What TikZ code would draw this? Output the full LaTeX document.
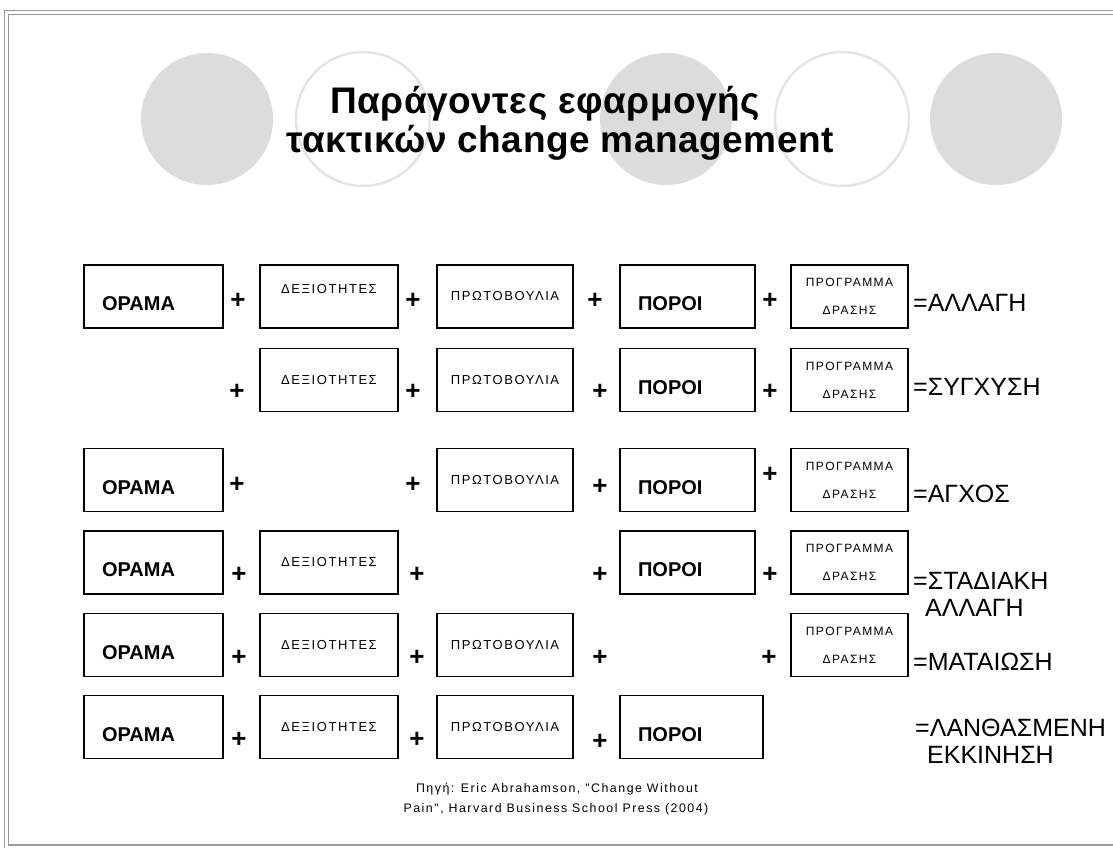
\documentclass[tikz,border=0pt]{standalone}
\usepackage{fontspec}
\setmainfont{Liberation Sans}
\newfontfamily\spacedsans[LetterSpace=12]{Liberation Sans}
\newfontfamily\titlesans[LetterSpace=1.5]{Liberation Sans}

\definecolor{discgray}{HTML}{DCDCDC}
\definecolor{ringgray}{HTML}{E4E4E4}
\definecolor{framegray}{HTML}{9A9A9A}

\tikzset{
  box/.style={draw, line width=1.1pt, rectangle, minimum height=63pt, inner ysep=0pt},
  bigbox/.style={box, font=\bfseries\fontsize{20}{20}\selectfont, align=left,
    inner xsep=18pt, text height=28pt, text depth=0pt, text width=#1},
  skillbox/.style={box, font=\spacedsans\fontsize{13}{13}\selectfont, minimum width=138pt},
  planbox/.style={box, font=\spacedsans\fontsize{12}{28}\selectfont, align=center, minimum width=117pt},
  plus/.style={font=\bfseries\fontsize{26}{26}\selectfont, inner sep=0pt},
  result/.style={anchor=west, font=\fontsize{25}{27}\selectfont, align=left, inner sep=0pt},
  source/.style={anchor=base, font=\spacedsans\fontsize{12.4}{12}\selectfont, inner sep=0pt},
  title/.style={anchor=base, font=\titlesans\bfseries\fontsize{37}{37}\selectfont, inner sep=0pt}
}

\begin{document}
\begin{tikzpicture}[x=1pt,y=-1pt]
\useasboundingbox (0,0) rectangle (1113,847);
\draw[framegray, line width=1.3pt, double=white, double distance=2.7pt] (6.5,12.5) rectangle (1120,847);

% background circles
\fill[discgray] (207,119) circle (66pt);
\draw[ringgray, line width=2.5pt] (363,119) circle (67pt);
\fill[discgray] (666,119) circle (66pt);
\draw[ringgray, line width=2.5pt] (842,119) circle (67pt);
\fill[discgray] (996,119) circle (66pt);

\node[title] (title1) at (545,113) {Παράγοντες εφαρμογής};
\node[title] (title2) at (560,152) {τακτικών change management};

% row 1
\node[bigbox=103pt] (vision1) at (153.5,296.5) {ΟΡΑΜΑ};
\node[plus] (p11) at (238,301) {+};
\node[skillbox, text depth=16pt] (skills1) at (329,296.5) {ΔΕΞΙΟΤΗΤΕΣ};
\node[plus] (p12) at (413,301) {+};
\node[skillbox, minimum width=136pt] (init1) at (505,296.5) {ΠΡΩΤΟΒΟΥΛΙΑ};
\node[plus] (p13) at (595,301) {+};
\node[bigbox=99pt] (means1) at (687.5,296.5) {ΠΟΡΟΙ};
\node[plus] (p14) at (770,301) {+};
\node[planbox] (plan1) at (849.5,296.5) {ΠΡΟΓΡΑΜΜΑ\\ΔΡΑΣΗΣ};
\node[result] (res1) at (913,303) {=ΑΛΛΑΓΗ};

% row 2
\node[plus] (p21) at (237,392) {+};
\node[skillbox] (skills2) at (329,380) {ΔΕΞΙΟΤΗΤΕΣ};
\node[plus] (p22) at (413,392) {+};
\node[skillbox, minimum width=136pt] (init2) at (505,380) {ΠΡΩΤΟΒΟΥΛΙΑ};
\node[plus] (p23) at (600,392) {+};
\node[bigbox=99pt] (means2) at (687.5,380) {ΠΟΡΟΙ};
\node[plus] (p24) at (770,392) {+};
\node[planbox] (plan2) at (849.5,380) {ΠΡΟΓΡΑΜΜΑ\\ΔΡΑΣΗΣ};
\node[result] (res2) at (913,387) {=ΣΥΓΧΥΣΗ};

% row 3
\node[bigbox=103pt] (vision3) at (153.5,480) {ΟΡΑΜΑ};
\node[plus] (p31) at (237,485) {+};
\node[plus] (p32) at (413,485) {+};
\node[skillbox, minimum width=136pt] (init3) at (505,480) {ΠΡΩΤΟΒΟΥΛΙΑ};
\node[plus] (p33) at (600,487) {+};
\node[bigbox=99pt] (means3) at (687.5,480) {ΠΟΡΟΙ};
\node[plus] (p34) at (770,475) {+};
\node[planbox] (plan3) at (849.5,480) {ΠΡΟΓΡΑΜΜΑ\\ΔΡΑΣΗΣ};
\node[result] (res3) at (913,494) {=ΑΓΧΟΣ};

% row 4
\node[bigbox=103pt] (vision4) at (153.5,562.5) {ΟΡΑΜΑ};
\node[plus] (p41) at (239,575) {+};
\node[skillbox] (skills4) at (329,562.5) {ΔΕΞΙΟΤΗΤΕΣ};
\node[plus] (p42) at (417,575) {+};
\node[plus] (p43) at (600,575) {+};
\node[bigbox=99pt] (means4) at (687.5,562.5) {ΠΟΡΟΙ};
\node[plus] (p44) at (770,575) {+};
\node[planbox] (plan4) at (849.5,562.5) {ΠΡΟΓΡΑΜΜΑ\\ΔΡΑΣΗΣ};
\node[result] (res4) at (913,594.5) {=ΣΤΑΔΙΑΚΗ\\\hspace*{12pt}ΑΛΛΑΓΗ};

% row 5
\node[bigbox=103pt] (vision5) at (153.5,645) {ΟΡΑΜΑ};
\node[plus] (p51) at (239,658) {+};
\node[skillbox] (skills5) at (329,645) {ΔΕΞΙΟΤΗΤΕΣ};
\node[plus] (p52) at (417,658) {+};
\node[skillbox, minimum width=136pt] (init5) at (505,645) {ΠΡΩΤΟΒΟΥΛΙΑ};
\node[plus] (p53) at (600,658) {+};
\node[plus] (p54) at (769,658) {+};
\node[planbox] (plan5) at (849.5,645) {ΠΡΟΓΡΑΜΜΑ\\ΔΡΑΣΗΣ};
\node[result] (res5) at (913,662) {=ΜΑΤΑΙΩΣΗ};

% row 6
\node[bigbox=103pt] (vision6) at (153.5,727) {ΟΡΑΜΑ};
\node[plus] (p61) at (239,740) {+};
\node[skillbox] (skills6) at (329,727) {ΔΕΞΙΟΤΗΤΕΣ};
\node[plus] (p62) at (417,740) {+};
\node[skillbox, minimum width=136pt] (init6) at (505,727) {ΠΡΩΤΟΒΟΥΛΙΑ};
\node[plus] (p63) at (600,742) {+};
\node[bigbox=107pt] (means6) at (691.5,727) {ΠΟΡΟΙ};
\node[result] (res6) at (915,741.5) {=ΛΑΝΘΑΣΜΕΝΗ\\\hspace*{12pt}ΕΚΚΙΝΗΣΗ};

% source
\node[source] (src1) at (557,792) {Πηγή: Eric Abrahamson, "Change Without};
\node[source] (src2) at (556,812) {Pain", Harvard Business School Press (2004)};
\end{tikzpicture}
\end{document}
